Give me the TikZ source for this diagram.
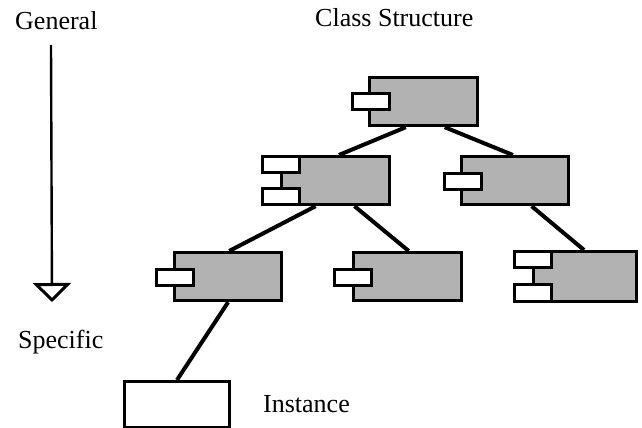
\documentclass[tikz,border=0pt]{standalone}
\usepackage{fontspec}
\setmainfont{Liberation Serif}
\usetikzlibrary{calc,arrows.meta}
\begin{document}
\begin{tikzpicture}[x=1pt,y=-1pt,
  classbody/.style={draw, line width=3.2pt, fill=black!30, minimum width=108pt,
    minimum height=48pt, inner sep=0pt, anchor=north west},
  tabbox/.style={draw, line width=3pt, fill=white, minimum width=37pt,
    minimum height=16pt, inner sep=0pt, anchor=north west},
  instbox/.style={draw, line width=3pt, fill=white, minimum width=105pt,
    minimum height=46pt, inner sep=0pt, anchor=north west},
  link/.style={line width=4pt},
  caption/.style={font=\fontsize{26}{30}\selectfont, anchor=base west, inner sep=0pt}]
\useasboundingbox (0,0) rectangle (642,428);

% captions
\node[caption] (general) at (15,30) {General};
\node[caption] (classstruct) at (315,27) {Class Structure};
\node[caption] (specific) at (18,348) {Specific};
\node[caption] (instlabel) at (263,412) {Instance};

% general-to-specific arrow
\coordinate (gtop) at (51,45);
\coordinate (gbot) at (52,302);
\draw[line width=2.4pt, -{Triangle[open, width=38pt, length=19pt, line width=3pt]}] (gtop) -- (gbot);

% class bodies
\node[classbody] (root) at (368,76) {};
\node[classbody] (midl) at (280,155) {};
\node[classbody, minimum width=107pt] (midr) at (460,155) {};
\node[classbody, minimum width=107pt] (lowl) at (173,251) {};
\node[classbody] (lowm) at (352,251) {};
\node[classbody, minimum width=103pt, minimum height=50pt] (lowr) at (532,250) {};
\node[instbox] (inst) at (123,380) {};

% interface tabs
\node[tabbox] (roottab) at (351,92) {};
\node[tabbox] (midltabA) at (261,155) {};
\node[tabbox] (midltabB) at (261,187) {};
\node[tabbox] (midrtab) at (443,172) {};
\node[tabbox] (lowltab) at (155,268) {};
\node[tabbox] (lowmtab) at (333,268) {};
\node[tabbox] (lowrtabA) at (513,250) {};
\node[tabbox, minimum height=17pt] (lowrtabB) at (513,283) {};

% inheritance links
\draw[link] ($(root.south west)!0.34!(root.south east)$) -- ($(midl.north west)!0.53!(midl.north east)$);
\draw[link] ($(root.south west)!0.69!(root.south east)$) -- ($(midr.north west)!0.48!(midr.north east)$);
\draw[link] ($(midl.south west)!0.32!(midl.south east)$) -- ($(lowl.north west)!0.51!(lowl.north east)$);
\draw[link] ($(midl.south west)!0.67!(midl.south east)$) -- ($(lowm.north west)!0.51!(lowm.north east)$);
\draw[link] ($(midr.south west)!0.65!(midr.south east)$) -- ($(lowr.north west)!0.49!(lowr.north east)$);
\draw[link] (lowl.south) -- (inst.north);
\end{tikzpicture}
\end{document}
